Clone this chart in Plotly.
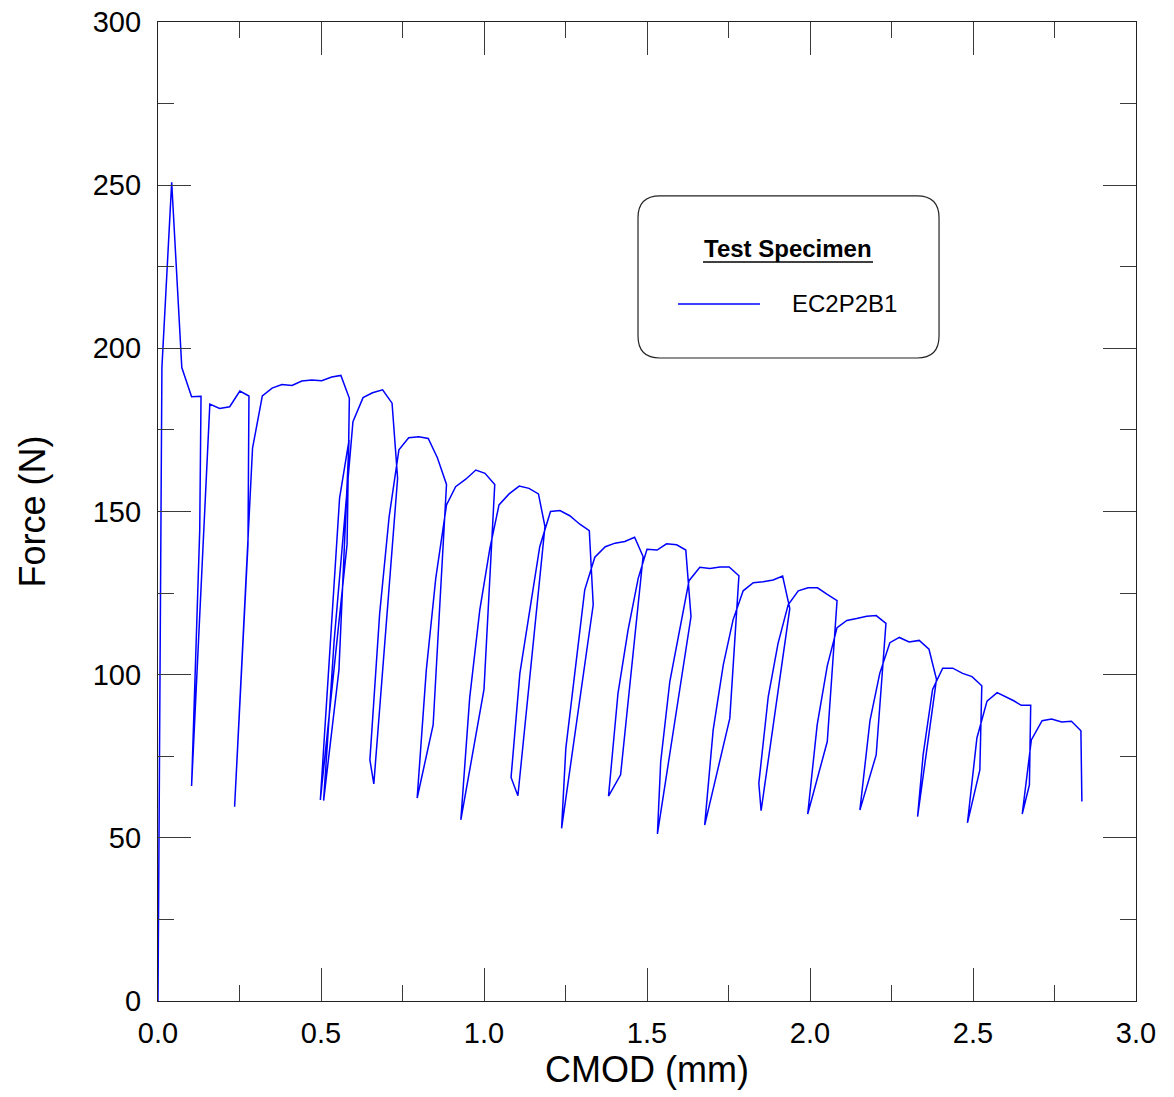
import plotly.graph_objects as go

# CMOD (mm) and force (N) for specimen EC2P2B1, loading/unloading cycles
cmod = [
    0.000, 0.012, 0.042, 0.073, 0.103, 0.132,
    0.128, 0.103, 0.159,
    0.189, 0.220, 0.251, 0.279,
    0.276, 0.235, 0.290, 0.320,
    0.350, 0.380, 0.411, 0.441, 0.472, 0.502, 0.533, 0.561, 0.587,
    0.580, 0.498, 0.557, 0.586, 0.555, 0.508, 0.540, 0.598,
    0.629, 0.658, 0.689, 0.718,
    0.735, 0.662, 0.650, 0.680, 0.709, 0.739,
    0.769, 0.800, 0.829, 0.857, 0.885,
    0.844, 0.795, 0.823, 0.852, 0.885,
    0.913, 0.944, 0.975, 1.003, 1.033,
    1.000, 0.929, 0.956, 0.987, 1.018, 1.046,
    1.077, 1.108, 1.138, 1.167, 1.187,
    1.104, 1.083, 1.110, 1.171, 1.204,
    1.233, 1.263, 1.294, 1.323, 1.335,
    1.238, 1.251, 1.309, 1.340,
    1.372, 1.402, 1.432, 1.462, 1.488,
    1.419, 1.382, 1.411, 1.442, 1.473, 1.500,
    1.531, 1.560, 1.591, 1.619, 1.635,
    1.532, 1.542, 1.570, 1.601, 1.629, 1.662,
    1.693, 1.724, 1.752, 1.782,
    1.754, 1.677, 1.703, 1.734, 1.764, 1.795,
    1.826, 1.856, 1.887, 1.916, 1.938,
    1.850, 1.843, 1.872, 1.902, 1.933, 1.964,
    1.994, 2.023, 2.053, 2.083,
    2.053, 1.993, 2.022, 2.053, 2.083, 2.113,
    2.143, 2.174, 2.203, 2.233,
    2.203, 2.153, 2.184, 2.214, 2.245, 2.274,
    2.304, 2.335, 2.365, 2.388,
    2.330, 2.347, 2.376, 2.407,
    2.438, 2.468, 2.497, 2.527,
    2.521, 2.483, 2.512, 2.543, 2.574,
    2.601, 2.625, 2.648, 2.677,
    2.673, 2.651, 2.679, 2.712,
    2.741, 2.772, 2.802, 2.831, 2.834,
]
force = [
    0.0, 194.1, 250.9, 194.1, 185.2, 185.3,
    144.3, 65.9, 182.9,
    181.6, 182.1, 186.9, 185.4,
    140.0, 59.5, 169.4, 185.4,
    187.8, 188.9, 188.6, 190.0, 190.3, 190.1, 191.2, 191.7, 184.7,
    140.0, 61.6, 154.1, 171.9, 101.4, 61.4, 110.0, 177.5,
    184.9, 186.4, 187.3, 183.2,
    160.2, 66.5, 73.9, 118.8, 148.4, 168.9,
    172.6, 172.9, 172.4, 166.5, 158.3,
    84.6, 62.2, 101.4, 129.5, 152.0,
    157.6, 159.9, 162.7, 161.7, 158.3,
    95.5, 55.5, 92.8, 119.8, 138.7, 152.0,
    155.4, 157.8, 157.1, 155.4, 145.4,
    62.9, 68.5, 100.4, 139.2, 150.0,
    150.3, 148.7, 146.1, 144.1, 121.4,
    52.9, 77.4, 126.0, 136.0,
    139.2, 140.3, 140.8, 142.1, 136.2,
    69.3, 62.8, 94.3, 113.7, 129.5, 138.4,
    138.2, 140.1, 139.8, 138.2, 117.8,
    51.2, 73.3, 97.9, 114.7, 128.8, 132.9,
    132.5, 133.0, 133.0, 130.3,
    86.6, 53.9, 83.1, 103.0, 116.8, 125.7,
    128.2, 128.5, 129.0, 130.2, 120.3,
    58.3, 66.7, 93.3, 109.6, 121.4, 125.7,
    126.6, 126.6, 124.6, 122.7,
    79.5, 57.3, 84.6, 102.7, 114.4, 116.6,
    117.2, 117.9, 118.1, 115.7,
    75.4, 58.5, 85.9, 100.4, 109.8, 111.4,
    110.0, 110.5, 107.8, 98.6,
    56.5, 75.4, 95.5, 102.0,
    102.0, 100.4, 99.4, 96.6,
    70.8, 54.6, 80.6, 91.9, 94.5,
    93.3, 92.0, 90.6, 90.6,
    66.2, 57.3, 80.0, 85.9,
    86.4, 85.5, 85.7, 82.8, 61.1,
]

specimen = "EC2P2B1"
legend_title = "Test Specimen"
x_ticks = [0.0, 0.5, 1.0, 1.5, 2.0, 2.5, 3.0]
y_ticks = [0, 50, 100, 150, 200, 250, 300]

BLUE = "#0000ff"
FONT = "Liberation Sans, Arial, sans-serif"
AXIS_COLOR = "#3a3a3a"

fig = go.Figure()
fig.add_trace(go.Scatter(
    x=cmod, y=force, mode="lines", name=specimen,
    line=dict(color=BLUE, width=1.5),
))

axis_common = dict(
    showline=True, linecolor="#222222", linewidth=1.2, mirror="allticks",
    ticks="inside", ticklen=33, tickwidth=1.2, tickcolor=AXIS_COLOR,
    showgrid=False, zeroline=False,
    tickfont=dict(family=FONT, size=29, color="black"),
)

fig.update_xaxes(
    range=[0, 3], tickvals=x_ticks, ticktext=[f"{v:.1f}" for v in x_ticks],
    minor=dict(tickvals=[0.25, 0.75, 1.25, 1.75, 2.25, 2.75], ticks="inside",
               ticklen=16, tickwidth=1.2, tickcolor=AXIS_COLOR, showgrid=False),
    title=dict(text="CMOD (mm)", font=dict(family=FONT, size=36, color="black"), standoff=8),
    ticklabelstandoff=6,
    **axis_common,
)
fig.update_yaxes(
    range=[0, 300], tickvals=y_ticks, ticktext=[str(v) for v in y_ticks],
    minor=dict(tickvals=[25, 75, 125, 175, 225, 275], ticks="inside",
               ticklen=16, tickwidth=1.2, tickcolor=AXIS_COLOR, showgrid=False),
    title=dict(text="Force (N)", font=dict(family=FONT, size=36, color="black"), standoff=36),
    ticklabelstandoff=10,
    **axis_common,
)

# Legend box drawn as a rounded rectangle in paper coordinates
x0, x1, y0, y1 = 0.4908, 0.7986, 0.6568, 0.8223
rx, ry = 0.0225, 0.0225
box_path = (
    f"M {x0+rx},{y1} L {x1-rx},{y1} Q {x1},{y1} {x1},{y1-ry} "
    f"L {x1},{y0+ry} Q {x1},{y0} {x1-rx},{y0} "
    f"L {x0+rx},{y0} Q {x0},{y0} {x0},{y0+ry} "
    f"L {x0},{y1-ry} Q {x0},{y1} {x0+rx},{y1} Z"
)
fig.add_shape(type="path", path=box_path, xref="paper", yref="paper",
              line=dict(color="#222222", width=1.2), fillcolor="white", layer="above")
# sample line for the specimen entry
fig.add_shape(type="line", xref="paper", yref="paper",
              x0=0.5317, x1=0.6155, y0=0.712, y1=0.712,
              line=dict(color=BLUE, width=1.5), layer="above")
# underline of the legend heading
fig.add_shape(type="line", xref="paper", yref="paper",
              x0=0.5573, x1=0.7311, y0=0.7549, y1=0.7549,
              line=dict(color="black", width=1.5), layer="above")

fig.add_annotation(text=f"<b>{legend_title}</b>", xref="paper", yref="paper",
                   x=0.644, y=0.769, xanchor="center", yanchor="middle",
                   showarrow=False, font=dict(family=FONT, size=24, color="black"))
fig.add_annotation(text=specimen, xref="paper", yref="paper",
                   x=0.646, y=0.712, xanchor="left", yanchor="middle",
                   showarrow=False, font=dict(family=FONT, size=24, color="black"))

fig.update_layout(
    width=1174, height=1097,
    margin=dict(l=158, r=38, t=22, b=96, autoexpand=False),
    plot_bgcolor="white", paper_bgcolor="white",
    showlegend=False,
    font=dict(family=FONT, color="black"),
)

fig.write_html("out.html")
